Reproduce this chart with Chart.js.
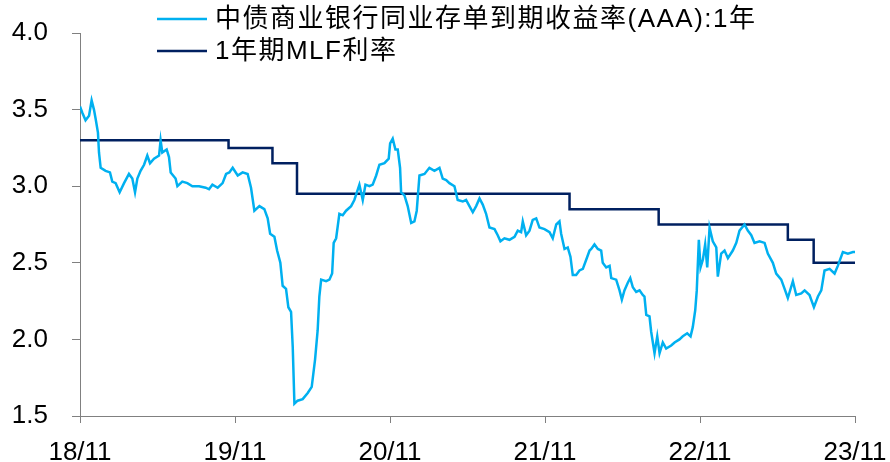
<!DOCTYPE html>
<html>
<head>
<meta charset="utf-8">
<script src="https://cdn.jsdelivr.net/npm/chart.js@4"></script>
<style>
    body { margin: 0; background: #fff; }
    #wrap { width: 890px; height: 462px; }
</style>
</head>
<body>
<div id="wrap"><canvas id="ncdChart" width="890" height="462"></canvas></div>
<script>
// x values are months counted from 2018-11
const xTickLabels = ['18/11', '19/11', '20/11', '21/11', '22/11', '23/11'];

const ncdMonths = [0, 0.18, 0.43, 0.70, 0.90, 1.08, 1.21, 1.39, 1.47, 1.60, 1.98, 2.32, 2.50, 2.76, 3.07, 3.41, 3.79, 4.05, 4.26, 4.44,
    4.69, 4.96, 5.21, 5.42, 5.73, 6.12, 6.24, 6.37, 6.71, 6.89, 7.02, 7.40, 7.54, 7.92, 8.31, 8.70, 9.22, 9.73, 9.99, 10.25,
    10.66, 11.04, 11.31, 11.56, 11.82, 12.21, 12.59, 12.98, 13.24, 13.50, 13.89, 14.27, 14.53, 14.72, 15.05, 15.26, 15.51, 15.69,
    15.95, 16.13, 16.34, 16.47, 16.60, 16.85, 17.24, 17.63, 17.94, 18.20, 18.40, 18.53, 18.67, 19.05, 19.31, 19.52, 19.64,
    19.83, 20.08, 20.34, 20.60, 20.99, 21.24, 21.63, 21.89, 22.10, 22.41, 22.66, 22.93, 23.18, 23.57, 23.90, 24.01, 24.21, 24.42,
    24.60, 24.78, 24.86, 25.12, 25.37, 25.64, 25.89, 26.07, 26.28, 26.67, 27.05, 27.44, 27.83, 28.08, 28.35, 28.60, 28.99, 29.24,
    29.63, 29.89, 30.15, 30.41, 30.67, 30.93, 31.18, 31.44, 31.70, 32.09, 32.34, 32.55, 32.86, 33.25, 33.64, 33.89, 34.15, 34.28,
    34.54, 34.80, 35.05, 35.32, 35.57, 35.96, 36.35, 36.60, 36.87, 37.12, 37.25, 37.51, 37.76, 37.97, 38.15, 38.41, 38.67, 38.93,
    39.19, 39.45, 39.58, 39.83, 40.09, 40.35, 40.47, 40.74, 41.00, 41.13, 41.51, 41.77, 41.95, 42.15, 42.41, 42.60, 42.80, 43.06,
    43.32, 43.57, 43.70, 43.84, 44.09, 44.22, 44.48, 44.69, 44.87, 45.12, 45.38, 45.77, 46.03, 46.41, 46.67, 47.01, 47.27, 47.44,
    47.63, 47.75, 47.91, 48.04, 48.22, 48.40, 48.56, 48.74, 48.99, 49.26, 49.38, 49.64, 49.90, 50.16, 50.54, 50.81, 51.06, 51.45,
    51.70, 51.97, 52.22, 52.61, 53.00, 53.25, 53.64, 53.90, 54.29, 54.55, 54.80, 55.19, 55.45, 55.84, 56.10, 56.48, 56.82, 57.13,
    57.39, 57.64, 58.03, 58.42, 58.67, 59.06, 59.45, 59.84, 60];

const ncdRates = [3.52, 3.48, 3.43, 3.46, 3.56, 3.50, 3.44, 3.35, 3.22, 3.12, 3.10, 3.09, 3.03, 3.02, 2.96, 3.02, 3.08, 3.05, 2.96, 3.05,
    3.10, 3.14, 3.20, 3.15, 3.18, 3.20, 3.30, 3.22, 3.24, 3.19, 3.09, 3.05, 3.00, 3.03, 3.02, 3.00, 3.00, 2.99, 2.98, 3.01,
    2.99, 3.02, 3.08, 3.09, 3.12, 3.07, 3.09, 3.08, 2.99, 2.84, 2.87, 2.85, 2.79, 2.69, 2.67, 2.58, 2.50, 2.35,
    2.33, 2.21, 2.18, 1.95, 1.58, 1.60, 1.61, 1.65, 1.69, 1.87, 2.06, 2.28, 2.39, 2.38, 2.39, 2.43, 2.63,
    2.66, 2.82, 2.81, 2.84, 2.87, 2.91, 3.01, 2.91, 3.01, 3.00, 3.01, 3.07, 3.14, 3.15, 3.18, 3.28, 3.31, 3.24,
    3.24, 3.12, 2.96, 2.94, 2.87, 2.76, 2.77, 2.84, 3.07, 3.08, 3.12, 3.10, 3.12, 3.05, 3.04, 3.02, 3.00, 2.91,
    2.90, 2.91, 2.87, 2.83, 2.87, 2.92, 2.88, 2.82, 2.73, 2.72, 2.68, 2.64, 2.66, 2.65, 2.67, 2.71, 2.70, 2.77,
    2.68, 2.71, 2.78, 2.79, 2.73, 2.72, 2.70, 2.66, 2.75, 2.77, 2.69, 2.59, 2.60, 2.54, 2.42, 2.42, 2.45, 2.46,
    2.52, 2.58, 2.59, 2.62, 2.59, 2.58, 2.50, 2.47, 2.48, 2.40, 2.39, 2.32, 2.26, 2.32, 2.37, 2.40, 2.34, 2.31,
    2.32, 2.29, 2.28, 2.16, 2.15, 2.05, 1.91, 2.02, 1.91, 1.98, 1.94, 1.96, 1.98, 2.00, 2.02, 2.04, 2.02, 2.08,
    2.19, 2.32, 2.65, 2.47, 2.52, 2.62, 2.47, 2.73, 2.64, 2.60, 2.41, 2.56, 2.58, 2.53, 2.58, 2.63, 2.71, 2.75,
    2.71, 2.68, 2.63, 2.64, 2.63, 2.56, 2.50, 2.43, 2.39, 2.33, 2.27, 2.38, 2.29, 2.30, 2.32, 2.29, 2.21, 2.28,
    2.32, 2.45, 2.46, 2.43, 2.48, 2.57, 2.56, 2.57, 2.57];

// MLF rate changes (month, new rate)
const mlfMonths = [0, 11.5, 14.9, 16.8, 37.9, 44.8, 54.8, 56.8, 60];
const mlfRates = [3.30, 3.25, 3.15, 2.95, 2.85, 2.75, 2.65, 2.50, 2.50];

const ncdLabel = '中债商业银行同业存单到期收益率(AAA):1年';
const mlfLabel = '1年期MLF利率';

const FONT = '"Liberation Sans", Arial, "Noto Sans CJK SC", sans-serif';

/* legend drawn over the plot, like the original */
const legendPlugin = {
    id: 'topLegend',
    afterDraw(chart) {
        const ctx = chart.ctx;
        const items = [
            { text: ncdLabel, color: '#00b0f0', y: 19 },
            { text: mlfLabel, color: '#002060', y: 51 }
        ];
        ctx.save();
        ctx.font = '26px ' + FONT;
        ctx.textBaseline = 'middle';
        ctx.fillStyle = '#000';
        if ('letterSpacing' in ctx) ctx.letterSpacing = '1.5px';
        items.forEach(it => {
            ctx.strokeStyle = it.color;
            ctx.lineWidth = 2.5;
            ctx.beginPath();
            ctx.moveTo(157, it.y);
            ctx.lineTo(207, it.y);
            ctx.stroke();
            ctx.fillText(it.text, 215, it.y + 1);
        });
        ctx.restore();
    }
};

const ncdPoints = ncdMonths.map((m, i) => ({ x: m, y: ncdRates[i] }));
const mlfPoints = mlfMonths.map((m, i) => ({ x: m, y: mlfRates[i] }));

new Chart(document.getElementById('ncdChart').getContext('2d'), {
    type: 'line',
    data: {
        datasets: [
            { label: ncdLabel, data: ncdPoints, borderColor: '#00b0f0', borderWidth: 2.5, pointRadius: 0, tension: 0 },
            { label: mlfLabel, data: mlfPoints, borderColor: '#002060', borderWidth: 2.5, pointRadius: 0, stepped: true }
        ]
    },
    options: {
        responsive: false,
        animation: false,
        layout: { padding: { top: 33, right: 35, bottom: 0, left: 0 } },
        plugins: { legend: { display: false }, tooltip: { enabled: false } },
        scales: {
            x: {
                type: 'linear',
                min: 0,
                max: 60,
                border: { color: '#808080', width: 1 },
                grid: { drawOnChartArea: false, drawTicks: true, tickLength: 7, tickColor: '#808080' },
                ticks: {
                    stepSize: 12,
                    padding: 14,
                    maxRotation: 0,
                    color: '#000',
                    font: { family: FONT, size: 26 },
                    callback: v => xTickLabels[Math.round(v / 12)]
                },
                afterFit: s => {
                    s.height = 46;
                    s.paddingLeft = 0;
                    s.paddingRight = 0;
                }
            },
            y: {
                min: 1.5,
                max: 4.0,
                border: { color: '#808080', width: 1 },
                grid: { drawOnChartArea: false, drawTicks: true, tickLength: 8, tickColor: '#808080' },
                ticks: {
                    stepSize: 0.5,
                    padding: 24,
                    color: '#000',
                    font: { family: FONT, size: 26 },
                    callback: v => v.toFixed(1)
                },
                afterFit: s => {
                    s.width = 80;
                    s.paddingTop = 0;
                    s.paddingBottom = 0;
                }
            }
        }
    },
    plugins: [legendPlugin]
});
</script>
</body>
</html>
